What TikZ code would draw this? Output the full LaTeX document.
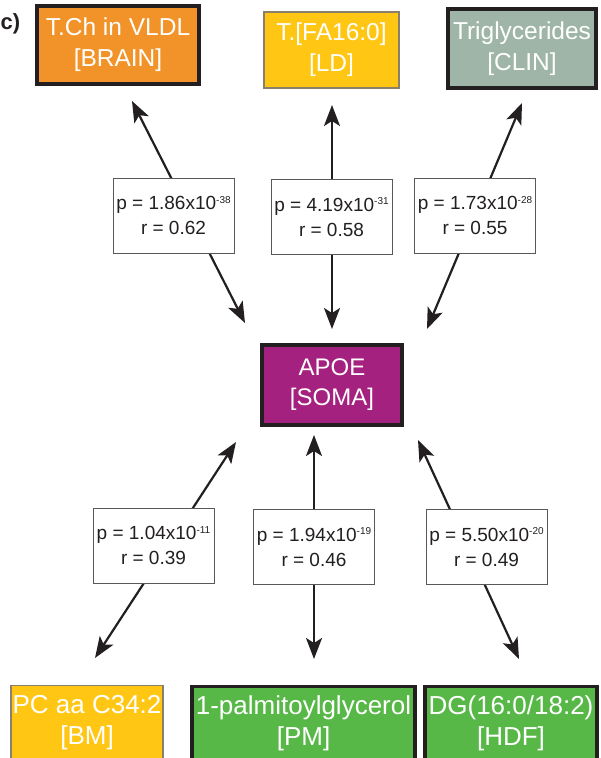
\documentclass[tikz,border=0pt]{standalone}
\usepackage{fontspec}
\setmainfont{Liberation Sans}
\usetikzlibrary{arrows.meta}
\definecolor{ink}{HTML}{231F20}
\definecolor{corange}{HTML}{F2932A}
\definecolor{cyellow}{HTML}{FFC614}
\definecolor{cgrey}{HTML}{9FB5A8}
\definecolor{cmagenta}{HTML}{A5217F}
\definecolor{cgreen}{HTML}{57B847}
\definecolor{thinb}{HTML}{8A7F6A}
\newcommand\myexp[1]{\raisebox{6.5pt}{\fontsize{10}{10}\selectfont #1}}
\begin{document}
\begin{tikzpicture}[x=1pt,y=-1pt,
  mainbox/.style={draw=ink, line width=3.2pt, text=white, align=center, inner sep=0pt, font=\fontsize{24.5}{31}\selectfont},
  thinbox/.style={mainbox, draw=thinb, line width=1.3pt},
  statbox/.style={draw=ink!75, line width=0.9pt, fill=white, text=ink, align=center, inner sep=0pt, minimum width=121pt, minimum height=75pt, font=\fontsize{19}{25}\selectfont},
  arr/.style={draw=ink, line width=2.2pt, {Stealth[length=21pt,width=16pt,inset=5pt]}-{Stealth[length=21pt,width=16pt,inset=5pt]}},
  boxtext/.style={text=white, align=center, inner sep=0pt, font=\fontsize{26}{31}\selectfont}
]
\useasboundingbox (0,0) rectangle (600,758);
\clip (0,0) rectangle (600,758);
\fill[white] (0,0) rectangle (600,758);

% panel label
\node[font=\bfseries\fontsize{22}{22}\selectfont, text=ink, anchor=west, inner sep=0pt] (lbl) at (0.5,24) {c)};

% arrow end points
\coordinate (t1a) at (132,101); \coordinate (t1b) at (245,323);
\coordinate (t2a) at (332,105); \coordinate (t2b) at (332,329);
\coordinate (t3a) at (522,103); \coordinate (t3b) at (427,329);
\coordinate (b1a) at (236,442); \coordinate (b1b) at (95,658);
\coordinate (b2a) at (314,435); \coordinate (b2b) at (314,659);
\coordinate (b3a) at (418,440); \coordinate (b3b) at (519,659);

\draw[arr] (t1a) -- (t1b);
\draw[arr] (t2a) -- (t2b);
\draw[arr] (t3a) -- (t3b);
\draw[arr] (b1a) -- (b1b);
\draw[arr] (b2a) -- (b2b);
\draw[arr] (b3a) -- (b3b);

% statistics boxes
\node[statbox] (s1) at (173.5,215.5) {p = 1.86x10\myexp{-38}\\r = 0.62};
\node[statbox] (s2) at (331.5,217) {p = 4.19x10\myexp{-31}\\r = 0.58};
\node[statbox] (s3) at (475,215.5) {p = 1.73x10\myexp{-28}\\r = 0.55};
\node[statbox] (s4) at (153.5,545.5) {p = 1.04x10\myexp{-11}\\r = 0.39};
\node[statbox] (s5) at (314,547) {p = 1.94x10\myexp{-19}\\r = 0.46};
\node[statbox] (s6) at (486.5,547) {p = 5.50x10\myexp{-20}\\r = 0.49};

% top boxes
\node[mainbox, fill=corange, minimum width=162pt, minimum height=78pt] (brain) at (118,45) {T.Ch in VLDL\\{[BRAIN]}};
\node[thinbox, fill=cyellow, minimum width=135pt, minimum height=76pt] (ld) at (331.5,50) {T.[FA16:0]\\{[LD]}};
\node[mainbox, fill=cgrey, minimum width=148pt, minimum height=79pt] (clin) at (522,48.5) {Triglycerides\\{[CLIN]}};

% centre box
\node[mainbox, fill=cmagenta, minimum width=140pt, minimum height=80pt, font=\fontsize{24}{30}\selectfont] (apoe) at (332,385) {APOE\\{[SOMA]}};

% bottom boxes (cut by the lower edge)
\node[thinbox, fill=cyellow, minimum width=152pt, minimum height=120pt, anchor=north] (bm) at (87,685) {};
\node[mainbox, fill=cgreen, minimum width=223pt, minimum height=120pt, anchor=north] (pm) at (303.5,685) {};
\node[mainbox, fill=cgreen, minimum width=172pt, minimum height=120pt, anchor=north] (hdf) at (511,685) {};
\node[boxtext] (bmt) at (87,723) {PC aa C34:2\\{[BM]}};
\node[boxtext] (pmt) at (303.5,723) {1-palmitoylglycerol\\{[PM]}};
\node[boxtext] (hdft) at (511,723) {DG(16:0/18:2)\\{[HDF]}};
\end{tikzpicture}
\end{document}
